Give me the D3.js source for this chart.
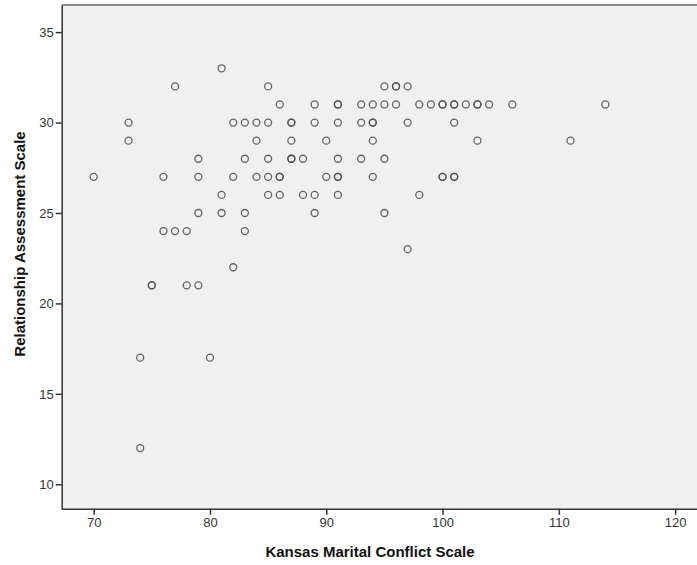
<!DOCTYPE html>
<html>
<head>
<meta charset="utf-8">
<script src="https://cdn.jsdelivr.net/npm/d3@7"></script>
<style>
  html, body { margin: 0; padding: 0; background: #fff; overflow: hidden; }
  svg { display: block; font-family: "Liberation Sans", Arial, sans-serif; }
</style>
</head>
<body>
<svg id="chart" width="697" height="565"></svg>
<script>
// Kansas Marital Conflict Scale (x) vs Relationship Assessment Scale (y)
const kmcs = [
  81,
  77, 85, 95, 96, 96, 97,
  86, 89, 91, 91, 93, 94, 95, 96, 98, 99, 100, 100, 101, 101, 102, 103, 103, 104, 106, 114,
  73, 82, 83, 84, 85, 87, 87, 89, 91, 93, 94, 94, 97, 101,
  73, 84, 87, 90, 94, 103, 111,
  79, 83, 85, 87, 87, 88, 91, 93, 95,
  70, 76, 79, 82, 84, 85, 86, 86, 90, 91, 91, 94, 100, 100, 101, 101,
  81, 85, 86, 88, 89, 91, 98,
  79, 81, 83, 89, 95,
  76, 77, 78, 83,
  97,
  82,
  75, 75, 78, 79,
  74, 80,
  74
];
const ras = [
  33,
  32, 32, 32, 32, 32, 32,
  31, 31, 31, 31, 31, 31, 31, 31, 31, 31, 31, 31, 31, 31, 31, 31, 31, 31, 31, 31,
  30, 30, 30, 30, 30, 30, 30, 30, 30, 30, 30, 30, 30, 30,
  29, 29, 29, 29, 29, 29, 29,
  28, 28, 28, 28, 28, 28, 28, 28, 28,
  27, 27, 27, 27, 27, 27, 27, 27, 27, 27, 27, 27, 27, 27, 27, 27,
  26, 26, 26, 26, 26, 26, 26,
  25, 25, 25, 25, 25,
  24, 24, 24, 24,
  23,
  22,
  21, 21, 21, 21,
  17, 17,
  12
];
const xTicks = [70, 80, 90, 100, 110, 120];
const yTicks = [10, 15, 20, 25, 30, 35];
const xTitle = "Kansas Marital Conflict Scale";
const yTitle = "Relationship Assessment Scale";

const svg = d3.select("#chart");
const pLeft = 61.7, pRight = 698.4, pTop = 5, pBottom = 508.7;

const x = d3.scaleLinear().domain([67.25, 122]).range([pLeft, pRight]);
const y = d3.scaleLinear().domain([8.65, 36.5]).range([pBottom, pTop]);

// plot background
svg.append("rect")
  .attr("x", pLeft).attr("y", pTop)
  .attr("width", pRight - pLeft + 5).attr("height", pBottom - pTop)
  .attr("fill", "#f0f0f0");

// top frame line
svg.append("line")
  .attr("x1", pLeft).attr("x2", 697 + 5)
  .attr("y1", pTop).attr("y2", pTop)
  .attr("stroke", "#8a8a8a").attr("stroke-width", 2);

// axes
const xAxis = svg.append("g")
  .attr("transform", `translate(0,${pBottom})`)
  .call(d3.axisBottom(x).tickValues(xTicks).tickSize(6).tickPadding(3).tickSizeOuter(0));
const yAxis = svg.append("g")
  .attr("transform", `translate(${pLeft},0)`)
  .call(d3.axisLeft(y).tickValues(yTicks).tickSize(6).tickPadding(2).tickSizeOuter(0));

[xAxis, yAxis].forEach(g => {
  g.select(".domain").attr("stroke", "#333").attr("stroke-width", 1.5);
  g.selectAll(".tick line").attr("stroke", "#333").attr("stroke-width", 1.5);
  g.selectAll(".tick text")
    .attr("fill", "#333")
    .style("font-size", "13px")
    .style("font-family", '"Liberation Sans", Arial, sans-serif');
});
xAxis.select(".domain").attr("d", `M${pLeft},0.5H${697 + 5}`);

// points
svg.append("g")
  .selectAll("circle")
  .data(kmcs.map((v, i) => [v, ras[i]]))
  .join("circle")
  .attr("cx", d => x(d[0]))
  .attr("cy", d => y(d[1]))
  .attr("r", 3.5)
  .attr("fill", "none")
  .attr("stroke", "#4a4a4a")
  .attr("stroke-opacity", 0.85)
  .attr("stroke-width", 1.3);

// axis titles
svg.append("text")
  .attr("x", 370).attr("y", 557)
  .attr("text-anchor", "middle")
  .style("font-size", "15px").style("font-weight", "bold")
  .attr("fill", "#111")
  .text(xTitle);

svg.append("text")
  .attr("transform", "translate(25,244) rotate(-90)")
  .attr("text-anchor", "middle")
  .style("font-size", "15px").style("font-weight", "bold")
  .attr("fill", "#111")
  .text(yTitle);
</script>
</body>
</html>
